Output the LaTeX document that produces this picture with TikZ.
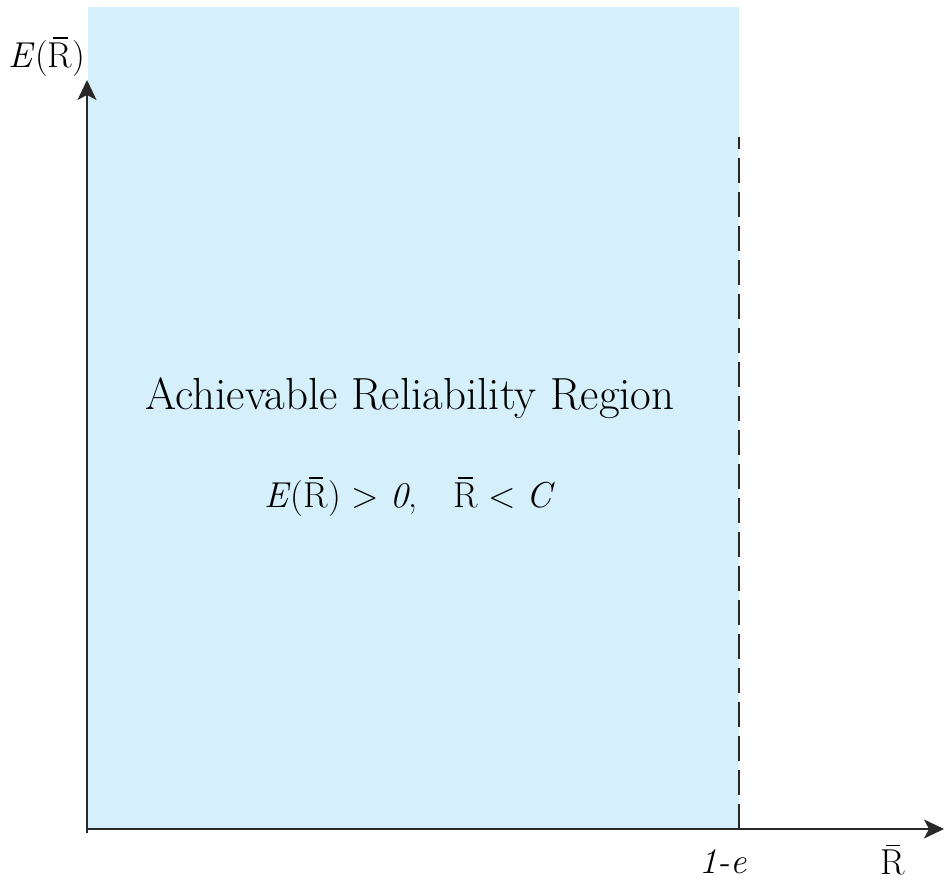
\documentclass[tikz,border=0pt]{standalone}
\usepackage{fontspec}
\setmainfont{Latin Modern Roman}
\usetikzlibrary{arrows.meta}
\definecolor{regionblue}{RGB}{213,240,250}
\definecolor{axisgray}{RGB}{40,40,40}
\newcommand{\Rbar}{\leavevmode\setbox0\hbox{R}\rlap{\hbox to \wd0{\hfil\rule[0.8em]{0.6\wd0}{0.045em}\hfil}}R}
\tikzset{
  axis/.style={line width=1.8pt, draw=axisgray, -{Stealth[length=20pt,width=19pt,inset=5pt]}},
  bound/.style={line width=1.8pt, draw=axisgray, dash pattern=on 25pt off 9pt},
  lbl/.style={inner sep=0pt, font=\fontsize{36}{40}\selectfont}
}
\begin{document}
\begin{tikzpicture}[x=1pt,y=1pt]
\useasboundingbox (0,0) rectangle (944,886);
\fill[regionblue] (88,57) rectangle (739,879);
\coordinate (O) at (87,57);
\coordinate (ytip) at (87,806);
\coordinate (xtip) at (944,57);
\coordinate (d0) at (739,57);
\coordinate (d1) at (739,749);
\draw[axis] (87,53) -- (ytip);
\draw[axis] (O) -- (xtip);
\draw[bound] (d0) -- (d1);
\node[lbl] (ylab) at (47,829) {\textit{E}(\Rbar)};
\node[lbl] (onee) at (723,24) {\textit{1-e}};
\node[lbl] (xlab) at (893,26) {\Rbar};
\node[inner sep=0pt, font=\fontsize{45}{50}\selectfont] (title) at (410,488) {Achievable Reliability Region};
\node[lbl] (cond) at (410,389) {\textit{E}(\Rbar) > \textit{0},\quad \Rbar{} < \textit{C}};
\end{tikzpicture}
\end{document}
